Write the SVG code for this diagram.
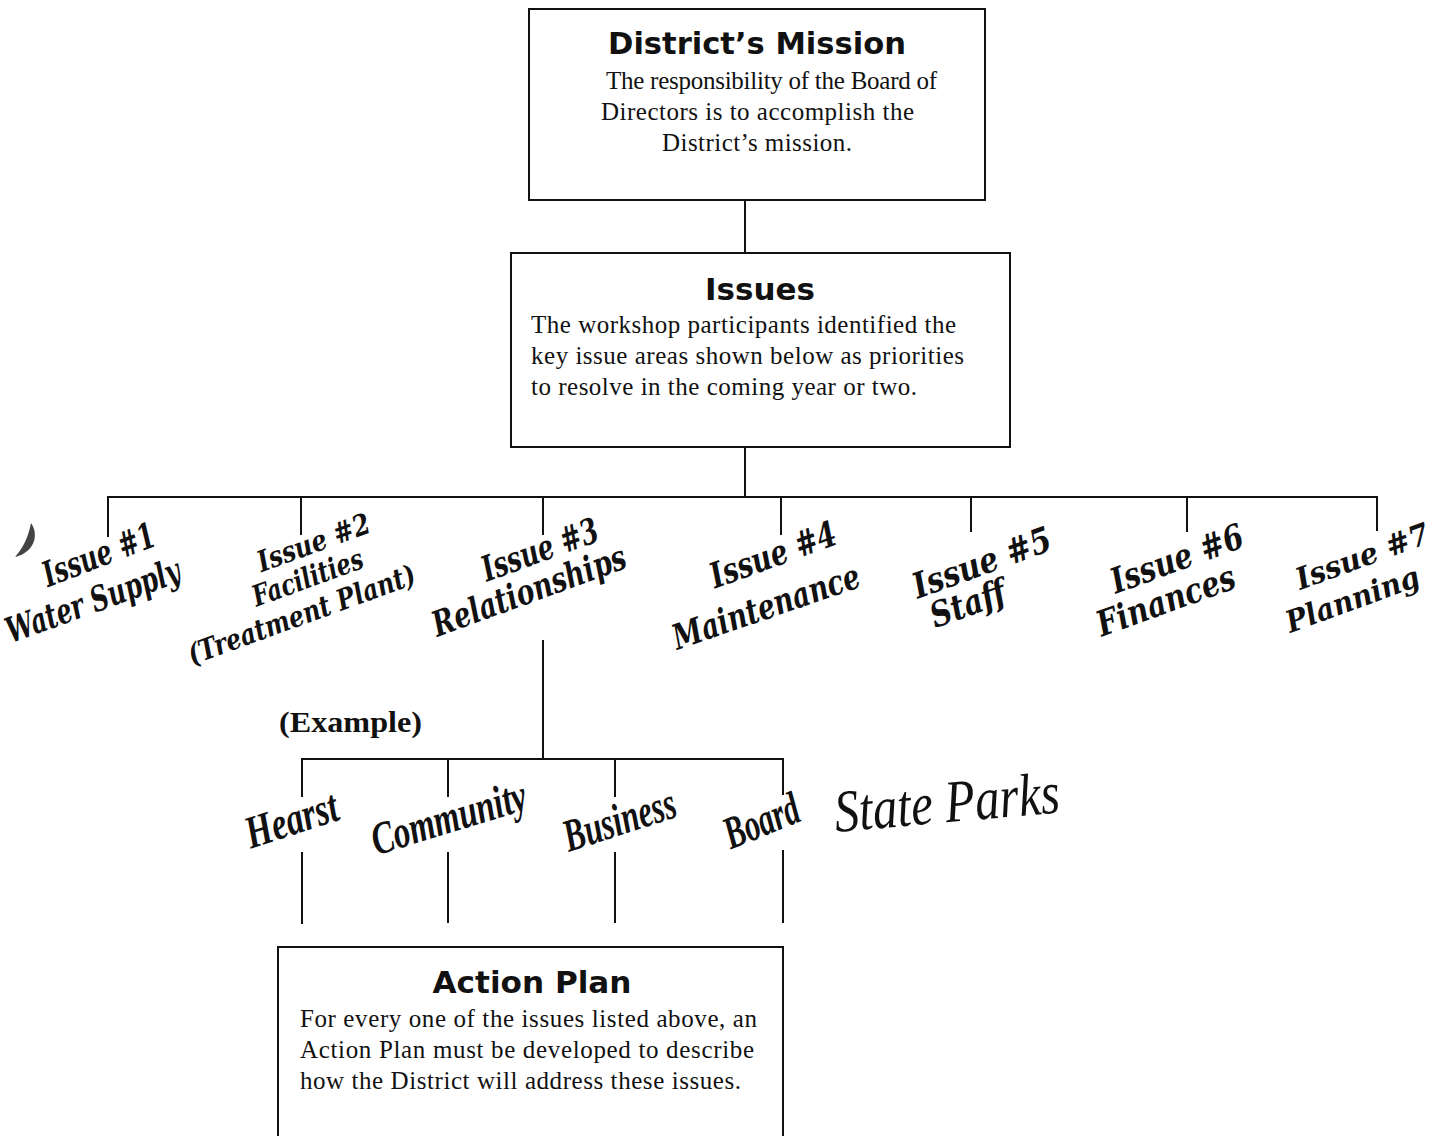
<svg xmlns="http://www.w3.org/2000/svg" width="1452" height="1136" viewBox="0 0 1452 1136">
<style>
.box{fill:#fff;stroke:#111;stroke-width:2}
.ln{stroke:#111;stroke-width:2;fill:none}
.title{font-family:"DejaVu Sans","Liberation Sans",sans-serif;font-weight:bold;font-size:31px;fill:#111;text-anchor:middle}
.body{font-family:"Liberation Serif","Times New Roman",serif;font-size:25px;fill:#111}
.iss{font-family:"DejaVu Serif","Liberation Serif",serif;font-weight:bold;font-style:italic;font-size:35px;fill:#111;text-anchor:middle}
.iss2{font-family:"DejaVu Serif","Liberation Serif",serif;font-weight:bold;font-style:italic;font-size:29px;fill:#111;text-anchor:middle}
.iss7{font-size:30px}
.sub{font-family:"Liberation Serif","Times New Roman",serif;font-weight:bold;font-style:italic;font-size:46px;fill:#111;text-anchor:middle}
.ex{font-family:"Liberation Serif","Times New Roman",serif;font-weight:bold;font-size:30px;fill:#111}
.hand{font-family:"Liberation Serif","DejaVu Serif",serif;font-style:italic;font-size:60px;fill:#111}
</style>
<rect width="1452" height="1136" fill="#fff"/>

<g id="connectors">
  <line class="ln" x1="745" y1="200" x2="745" y2="253"/>
  <line class="ln" x1="745" y1="447" x2="745" y2="497"/>
  <line class="ln" x1="107" y1="497" x2="1378" y2="497"/>
  <line class="ln" x1="108" y1="496" x2="108" y2="537"/>
  <line class="ln" x1="301" y1="497" x2="301" y2="535"/>
  <line class="ln" x1="543" y1="497" x2="543" y2="535"/>
  <line class="ln" x1="781" y1="497" x2="781" y2="535"/>
  <line class="ln" x1="971" y1="497" x2="971" y2="532"/>
  <line class="ln" x1="1187" y1="497" x2="1187" y2="532"/>
  <line class="ln" x1="1377" y1="496" x2="1377" y2="531"/>
  <line class="ln" x1="543" y1="640" x2="543" y2="759"/>
  <line class="ln" x1="301" y1="759" x2="784" y2="759"/>
  <line class="ln" x1="302" y1="758" x2="302" y2="797"/>
  <line class="ln" x1="448" y1="759" x2="448" y2="797"/>
  <line class="ln" x1="615" y1="759" x2="615" y2="797"/>
  <line class="ln" x1="783" y1="758" x2="783" y2="795"/>
  <line class="ln" x1="302" y1="852" x2="302" y2="924"/>
  <line class="ln" x1="448" y1="852" x2="448" y2="923"/>
  <line class="ln" x1="615" y1="852" x2="615" y2="923"/>
  <line class="ln" x1="783" y1="850" x2="783" y2="923"/>
</g>

<g id="mission">
  <rect class="box" x="529" y="9" width="456" height="191"/>
  <text class="title" x="757" y="54" textLength="298" lengthAdjust="spacingAndGlyphs">District’s Mission</text>
  <text class="body" x="606" y="89" textLength="331">The responsibility of the Board of</text>
  <text class="body" x="601" y="120" textLength="313">Directors is to accomplish the</text>
  <text class="body" x="662" y="151" textLength="190">District’s mission.</text>
</g>

<g id="issues">
  <rect class="box" x="511" y="253" width="499" height="194"/>
  <text class="title" x="760" y="300" textLength="110" lengthAdjust="spacingAndGlyphs">Issues</text>
  <text class="body" x="531" y="333" textLength="425">The workshop participants identified the</text>
  <text class="body" x="531" y="364" textLength="433">key issue areas shown below as priorities</text>
  <text class="body" x="531" y="395" textLength="386">to resolve in the coming year or two.</text>
</g>

<g id="issue1">
  <text class="iss" transform="rotate(-21 103 566)" x="103" y="566" textLength="118" lengthAdjust="spacingAndGlyphs">Issue #1</text>
  <text class="iss" transform="rotate(-20 97 612)" x="97" y="612" textLength="183" lengthAdjust="spacingAndGlyphs">Water Supply</text>
</g>
<g id="issue2">
  <text class="iss2" transform="rotate(-20 317 552)" x="317" y="552" textLength="118" lengthAdjust="spacingAndGlyphs">Issue #2</text>
  <text class="iss2" transform="rotate(-20 311 587)" x="311" y="587" textLength="116" lengthAdjust="spacingAndGlyphs">Facilities</text>
  <text class="iss2" transform="rotate(-20 305 624)" x="305" y="624" textLength="240" lengthAdjust="spacingAndGlyphs">(Treatment Plant)</text>
</g>
<g id="issue3">
  <text class="iss" transform="rotate(-20 544 561)" x="544" y="561" textLength="122" lengthAdjust="spacingAndGlyphs">Issue #3</text>
  <text class="iss" transform="rotate(-20 533 602)" x="533" y="602" textLength="204" lengthAdjust="spacingAndGlyphs">Relationships</text>
</g>
<g id="issue4">
  <text class="iss" transform="rotate(-20 777 566)" x="777" y="566" textLength="132" lengthAdjust="spacingAndGlyphs">Issue #4</text>
  <text class="iss" transform="rotate(-19 770 618)" x="770" y="618" textLength="196" lengthAdjust="spacingAndGlyphs">Maintenance</text>
</g>
<g id="issue5">
  <text class="iss" transform="rotate(-20 986 574)" x="986" y="574" textLength="145" lengthAdjust="spacingAndGlyphs">Issue #5</text>
  <text class="iss" transform="rotate(-20 972 615)" x="972" y="615" textLength="78" lengthAdjust="spacingAndGlyphs">Staff</text>
</g>
<g id="issue6">
  <text class="iss" transform="rotate(-20 1181 570)" x="1181" y="570" textLength="139" lengthAdjust="spacingAndGlyphs">Issue #6</text>
  <text class="iss" transform="rotate(-20 1170 612)" x="1170" y="612" textLength="145" lengthAdjust="spacingAndGlyphs">Finances</text>
</g>
<g id="issue7">
  <text class="iss iss7" transform="rotate(-20 1366 566)" x="1366" y="566" textLength="140" lengthAdjust="spacingAndGlyphs">Issue #7</text>
  <text class="iss iss7" transform="rotate(-20 1356 609)" x="1356" y="609" textLength="140" lengthAdjust="spacingAndGlyphs">Planning</text>
</g>

<g id="example">
  <text class="ex" x="279" y="732" textLength="143" lengthAdjust="spacingAndGlyphs">(Example)</text>
</g>

<g id="hearst">
  <text class="sub" transform="rotate(-18 296 834)" x="296" y="834" textLength="95" lengthAdjust="spacingAndGlyphs">Hearst</text>
</g>
<g id="community">
  <text class="sub" transform="rotate(-17 453 832)" x="453" y="832" textLength="160" lengthAdjust="spacingAndGlyphs">Community</text>
</g>
<g id="business">
  <text class="sub" transform="rotate(-18 624 834)" x="624" y="834" textLength="116" lengthAdjust="spacingAndGlyphs">Business</text>
</g>
<g id="board">
  <text class="sub" transform="rotate(-22 767 835)" x="767" y="835" textLength="78" lengthAdjust="spacingAndGlyphs">Board</text>
</g>

<g id="state-parks">
  <text class="hand" transform="rotate(-5 836 832)" x="836" y="832" textLength="226" lengthAdjust="spacingAndGlyphs">State Parks</text>
</g>

<g id="action-plan">
  <rect class="box" x="278" y="947" width="505" height="200"/>
  <text class="title" x="532" y="993" textLength="199" lengthAdjust="spacingAndGlyphs">Action Plan</text>
  <text class="body" x="300" y="1027" textLength="457">For every one of the issues listed above, an</text>
  <text class="body" x="300" y="1058" textLength="454">Action Plan must be developed to describe</text>
  <text class="body" x="300" y="1089" textLength="441">how the District will address these issues.</text>
</g>

<path d="M 31 523 C 40 536, 33 553, 15 557 C 23 548, 28 538, 31 523 Z" fill="#444"/>
</svg>
